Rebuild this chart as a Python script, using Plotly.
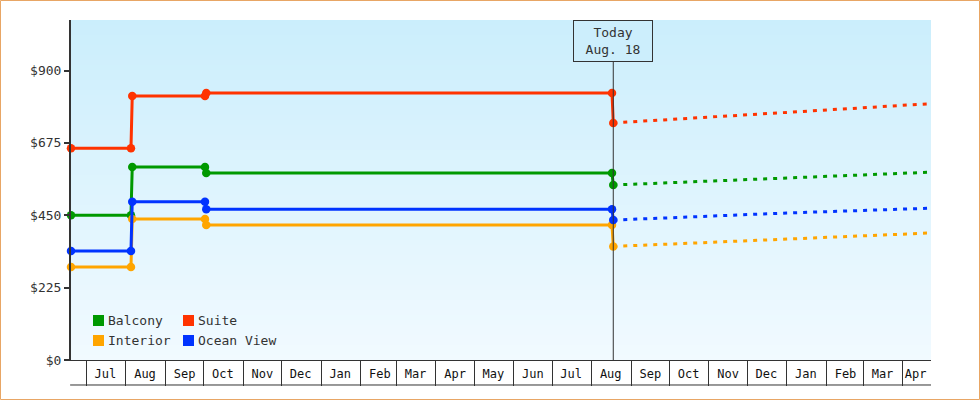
import pandas as pd
import plotly.graph_objects as go

# cabin fares: step history up to today, then the dashed forecast
cabins = ['Balcony', 'Suite', 'Interior', 'Ocean View']
colors = ['#009900', '#ff3300', '#ffa500', '#0033ff']

history_dates = ['2014-06-19', '2014-08-05', '2014-08-06', '2014-10-02',
                 '2014-10-03', '2015-08-17', '2015-08-18']
balcony = [450, 450, 600, 600, 581, 581, 544]
suite = [658, 658, 821, 821, 830, 830, 737]
interior = [289, 289, 438, 438, 420, 420, 353]
ocean_view = [339, 339, 492, 492, 469, 469, 435]

forecast_dates = ['2015-08-18', '2016-01-01', '2016-04-23']
balcony_fc = [544, 566, 584]
suite_fc = [737, 771, 797]
interior_fc = [353, 376, 395]
ocean_view_fc = [435, 457, 472]

today = '2015-08-18'
today_label = 'Today<br>Aug. 18'

price_ticks = [0, 225, 450, 675, 900]
price_labels = ['$0', '$225', '$450', '$675', '$900']
month_starts = pd.date_range('2014-07-01', '2016-04-01', freq='MS')
month_labels = ['Jul', 'Aug', 'Sep', 'Oct', 'Nov', 'Dec', 'Jan', 'Feb', 'Mar', 'Apr', 'May', 'Jun',
                'Jul', 'Aug', 'Sep', 'Oct', 'Nov', 'Dec', 'Jan', 'Feb', 'Mar', 'Apr']

history = [balcony, suite, interior, ocean_view]
forecast = [balcony_fc, suite_fc, interior_fc, ocean_view_fc]

FONT = 'DejaVu Sans Mono'
INK = '#333333'

# plot area is 71..931 px wide, 20..360 px tall
def px_x(p):
    return (p - 71) / 860


def px_y(p):
    return (360 - p) / 340


fig = go.Figure()

for name, color, fc in zip(cabins, colors, forecast):
    fig.add_trace(go.Scatter(x=forecast_dates, y=fc, mode='lines', showlegend=False,
                             line=dict(color=color, width=3, dash='4px,6px'),
                             cliponaxis=False, hoverinfo='skip'))
for name, color, hist in zip(cabins, colors, history):
    fig.add_trace(go.Scatter(x=history_dates, y=hist, mode='lines+markers', name=name,
                             showlegend=False, line=dict(color=color, width=3),
                             marker=dict(color=color, size=8.5), cliponaxis=False))

# plot area gradient
n_bands = 68
top_rgb = (203, 238, 252)
bottom_rgb = (241, 250, 255)
for i in range(n_bands):
    t = i / (n_bands - 1)
    rgb = [round(a + (b - a) * t) for a, b in zip(top_rgb, bottom_rgb)]
    fig.add_shape(type='rect', xref='paper', yref='paper', x0=0, x1=1,
                  y0=1 - (i + 1) / n_bands - 0.003, y1=1 - i / n_bands,
                  fillcolor='rgb(%d,%d,%d)' % tuple(rgb), line_width=0, layer='below')

# legend: two rows of square swatches
legend_cols = [93, 183]
legend_rows = [320.5, 340.5]
for i, (name, color) in enumerate(zip(cabins, colors)):
    left = legend_cols[i % 2]
    mid = legend_rows[i // 2]
    fig.add_shape(type='rect', xref='paper', yref='paper',
                  x0=px_x(left), x1=px_x(left + 11), y0=px_y(mid + 5.5), y1=px_y(mid - 5.5),
                  fillcolor=color, line_width=0)
    fig.add_annotation(x=px_x(left + 13), y=px_y(mid), xref='paper', yref='paper',
                       xanchor='left', yanchor='middle', text=name, showarrow=False,
                       font=dict(family=FONT, size=13, color=INK))

# today marker
fig.add_shape(type='line', xref='x', yref='paper', x0=today, x1=today, y0=0, y1=0.88,
              line=dict(color=INK, width=1))
fig.add_annotation(x=today, xref='x', y=1, yref='paper', yanchor='top', text=today_label,
                   showarrow=False, font=dict(family=FONT, size=13, color=INK),
                   bordercolor=INK, borderwidth=1, borderpad=3, width=72, height=34,
                   bgcolor='rgb(204,238,252)')

# bottom line of the month band
fig.add_shape(type='line', xref='paper', yref='paper', x0=-0.001, x1=1, y0=-0.0735, y1=-0.0735,
              line=dict(color=INK, width=1))

# outer frame
fig.add_shape(type='rect', xref='paper', yref='paper',
              x0=px_x(0.5), x1=px_x(979.5), y0=px_y(399.5), y1=px_y(0.5),
              line=dict(color='#e8a665', width=1))

label_pos = [d + pd.Timedelta(days=15) for d in month_starts[:-1]] + [pd.Timestamp('2016-04-11')]

fig.update_xaxes(range=['2014-06-19', '2016-04-23'], showgrid=False, zeroline=False,
                 showline=True, linecolor=INK, linewidth=1,
                 tickmode='array', tickvals=label_pos, ticktext=month_labels, ticks='',
                 tickfont=dict(family=FONT, size=12, color='#111111'), ticklabelstandoff=3,
                 minor=dict(tickmode='array', tickvals=list(month_starts), ticks='outside',
                            ticklen=25, tickcolor=INK, tickwidth=1, showgrid=False))
fig.update_yaxes(range=[0, 1057], showgrid=False, zeroline=False,
                 showline=True, linecolor=INK, linewidth=2,
                 tickmode='array', tickvals=price_ticks, ticktext=price_labels,
                 ticks='outside', ticklen=5, tickwidth=2, tickcolor=INK,
                 tickfont=dict(family=FONT, size=13, color=INK))

fig.update_layout(
    width=980, height=400,
    margin=dict(l=71, r=49, t=20, b=40),
    paper_bgcolor='white', plot_bgcolor='rgb(230,246,254)',
    showlegend=False,
    hovermode=False,
)

fig.write_html('out.html', config={'displayModeBar': False},
               post_script="document.body.style.margin='0';")
